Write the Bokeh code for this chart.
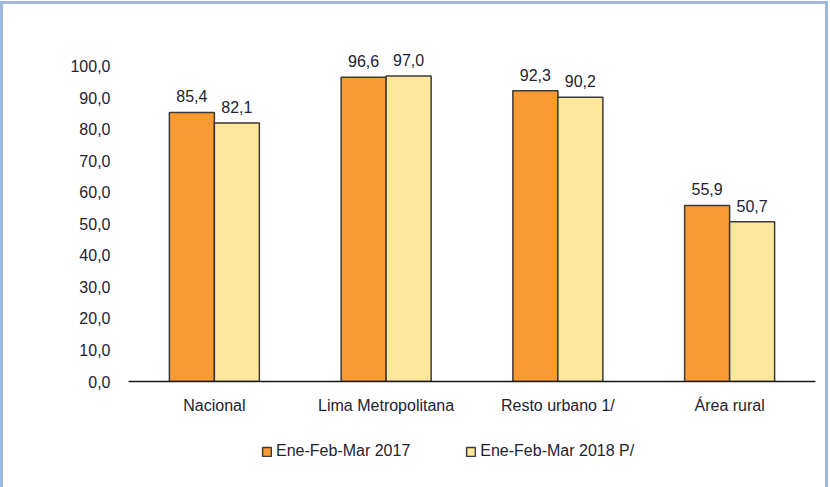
from bokeh.plotting import figure
from bokeh.layouts import column
from bokeh.models import ColumnDataSource, FactorRange, Range1d, Legend, LegendItem, FixedTicker
from bokeh.transform import dodge
from bokeh.embed import file_html
from bokeh.resources import INLINE

# Data
categories = ["Nacional", "Lima Metropolitana", "Resto urbano 1/", "Área rural"]
values_2017 = [85.4, 96.6, 92.3, 55.9]
values_2018 = [82.1, 97.0, 90.2, 50.7]
series_names = ["Ene-Feb-Mar 2017", "Ene-Feb-Mar 2018 P/"]
y_ticks = [0, 10, 20, 30, 40, 50, 60, 70, 80, 90, 100]


def fmt(v):
    return f"{v:.1f}".replace(".", ",")


src = ColumnDataSource(data=dict(
    cat=categories,
    v17=values_2017,
    v18=values_2018,
    l17=[fmt(v) for v in values_2017],
    l18=[fmt(v) for v in values_2018],
))

FONT = "Liberation Sans"
TEXT_COLOR = "#222230"
ORANGE = "#F99A32"
YELLOW = "#FEE69B"
EDGE = "#3A3A3A"
W = 822

x_range = FactorRange(*categories, range_padding=0)

# Main bar chart
p = figure(
    x_range=x_range,
    y_range=(0, 108.25),
    width=W, height=426,
    output_backend="svg", toolbar_location=None,
    min_border_left=125, min_border_right=10,
    min_border_top=36, min_border_bottom=49,
)
p.xgrid.grid_line_color = None
p.ygrid.grid_line_color = None
p.outline_line_color = None
p.border_fill_color = "white"

off = 0.131
bw = 0.262
bar_style = dict(width=bw, source=src, line_color=EDGE, line_width=1.5)
p.vbar(x=dodge("cat", -off, range=x_range), top="v17", fill_color=ORANGE, **bar_style)
p.vbar(x=dodge("cat", off, range=x_range), top="v18", fill_color=YELLOW, **bar_style)

# Value labels above each bar
for key, lab, dx in (("v17", "l17", -off), ("v18", "l18", off)):
    p.text(x=dodge("cat", dx, range=x_range), y=key, text=lab, source=src,
           text_align="center", text_baseline="alphabetic", y_offset=-16,
           text_font={"value": FONT}, text_font_size="16px", text_color=TEXT_COLOR)

# Y axis: labels only
p.yaxis.ticker = FixedTicker(ticks=y_ticks)
p.yaxis.major_label_overrides = {t: fmt(t) for t in y_ticks}
p.yaxis.axis_line_color = None
p.yaxis.major_tick_line_color = None
p.yaxis.minor_tick_line_color = None
p.yaxis.major_tick_out = 0
p.yaxis.major_tick_in = 0
p.yaxis.major_label_standoff = 18
p.yaxis.major_label_text_font = FONT
p.yaxis.major_label_text_font_size = "16px"
p.yaxis.major_label_text_color = TEXT_COLOR

# X axis: baseline and category names
p.xaxis.axis_line_color = "#1A1A1A"
p.xaxis.axis_line_width = 1.5
p.xaxis.major_tick_line_color = None
p.xaxis.minor_tick_line_color = None
p.xaxis.major_tick_out = 0
p.xaxis.major_tick_in = 0
p.xaxis.major_label_standoff = 15
p.xaxis.major_label_text_font = FONT
p.xaxis.major_label_text_font_size = "16px"
p.xaxis.major_label_text_color = TEXT_COLOR

# Legend strip under the chart; its series renderers are hidden, the legend
# keeps showing their swatches at full strength.
lg = figure(
    width=W, height=57, x_range=x_range, y_range=Range1d(0, 1),
    x_axis_type=None, y_axis_type=None,
    output_backend="svg", toolbar_location=None,
    min_border=0,
)
lg.outline_line_color = None
lg.xgrid.grid_line_color = None
lg.ygrid.grid_line_color = None
lg.border_fill_color = "white"
k17 = lg.vbar(x=dodge("cat", -off, range=x_range), top="v17", fill_color=ORANGE,
              visible=False, **bar_style)
k18 = lg.vbar(x=dodge("cat", off, range=x_range), top="v18", fill_color=YELLOW,
              visible=False, **bar_style)

legend = Legend(
    items=[LegendItem(label=series_names[0], renderers=[k17]),
           LegendItem(label=series_names[1], renderers=[k18])],
    orientation="horizontal", location=(133, 27),
    glyph_width=11, glyph_height=11, label_standoff=4, spacing=55,
    padding=0, margin=0,
    label_text_font=FONT, label_text_font_size="16px", label_text_color=TEXT_COLOR,
    border_line_color=None, background_fill_alpha=0,
    inactive_fill_alpha=0,
)
lg.add_layout(legend, "center")

layout = column(p, lg, spacing=0, margin=(4, 0, 0, 3),
                styles={"outline": "3px solid #9DB8DF", "background-color": "white"})

open("out.html", "w").write(file_html(layout, INLINE))
